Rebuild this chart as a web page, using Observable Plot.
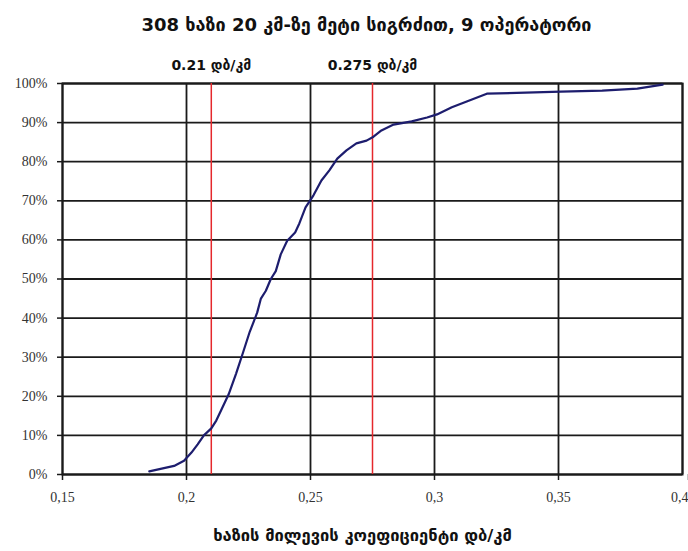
<!DOCTYPE html>
<html><head><meta charset="utf-8">
<script src="https://cdn.jsdelivr.net/npm/d3@7"></script>
<script src="https://cdn.jsdelivr.net/npm/@observablehq/plot@0.6"></script>
<style>body{margin:0;background:#fff}</style>
</head><body><div id="chart"></div>
<script>
const title = "308 ხაზი 20 კმ-ზე მეტი სიგრძით, 9 ოპერატორი";
const xTitle = "ხაზის მილევის კოეფიციენტი დბ/კმ";

const attenuation = [0.185, 0.190, 0.195, 0.199, 0.202, 0.2045, 0.207, 0.210, 0.212, 0.2143, 0.217, 0.220, 0.2228, 0.2255, 0.2285, 0.230, 0.232, 0.234, 0.236, 0.238, 0.2406, 0.2438, 0.2455, 0.248, 0.2512, 0.2544, 0.2576, 0.2608, 0.2645, 0.2685, 0.2726, 0.2754, 0.2786, 0.2835, 0.2908, 0.297, 0.301, 0.307, 0.313, 0.3211, 0.351, 0.3676, 0.3818, 0.392];
const cumulativeShare = [0.008, 0.015, 0.022, 0.035, 0.056, 0.077, 0.100, 0.118, 0.138, 0.169, 0.205, 0.258, 0.312, 0.365, 0.414, 0.450, 0.470, 0.500, 0.520, 0.563, 0.598, 0.619, 0.642, 0.683, 0.714, 0.752, 0.778, 0.808, 0.829, 0.847, 0.854, 0.864, 0.880, 0.895, 0.903, 0.913, 0.921, 0.939, 0.954, 0.974, 0.979, 0.982, 0.987, 0.997];

const markerValues = [0.21, 0.275];
const markerLabels = ["0.21 დბ/კმ", "0.275 დბ/კმ"];

const xTicks = [0.15, 0.2, 0.25, 0.3, 0.35, 0.4];
const xTickLabels = ["0,15", "0,2", "0,25", "0,3", "0,35", "0,4"];
const yTicks = [0, 0.1, 0.2, 0.3, 0.4, 0.5, 0.6, 0.7, 0.8, 0.9, 1];
const yTickLabels = ["0%", "10%", "20%", "30%", "40%", "50%", "60%", "70%", "80%", "90%", "100%"];

const curve = attenuation.map((x, i) => ({x, y: cumulativeShare[i]}));
const markers = markerValues.map((x, i) => ({x, label: markerLabels[i]}));
const geoFont = "'DejaVu Sans', sans-serif";
const fmtX = d => xTickLabels[xTicks.indexOf(d)];
const lastTick = xTicks[xTicks.length - 1];

const chart = Plot.plot({
  width: 688, height: 551,
  marginLeft: 62, marginRight: 6, marginTop: 83, marginBottom: 77,
  style: {fontFamily: "'Liberation Serif', serif", fontSize: "14px", background: "#fff", color: "#000"},
  x: {domain: [0.15, 0.4], label: null},
  y: {domain: [0, 1], label: null},
  marks: [
    Plot.gridX(xTicks, {stroke: "#1a1a1a", strokeOpacity: 1, strokeWidth: 1.8}),
    Plot.gridY(yTicks, {stroke: "#1a1a1a", strokeOpacity: 1, strokeWidth: 1.8}),
    Plot.frame({stroke: "#1a1a1a", strokeWidth: 2}),
    Plot.ruleX(markerValues, {stroke: "#e5282c", strokeWidth: 1.5}),
    Plot.line(curve, {x: "x", y: "y", stroke: "#1d1d6e", strokeWidth: 2.2}),
    Plot.axisX(xTicks.slice(0, -1), {tickFormat: fmtX, tickSize: 6, tickPadding: 12, fill: "#333", stroke: "#1a1a1a", strokeWidth: 1.5, label: null}),
    Plot.axisX([lastTick], {tickFormat: fmtX, tickSize: 6, tickPadding: 12, fill: "#333", stroke: "#1a1a1a", strokeWidth: 1.5, label: null, textAnchor: "end", dx: 6}),
    Plot.axisY(yTicks, {tickFormat: d => yTickLabels[yTicks.indexOf(d)], tickSize: 5, tickPadding: 10, fill: "#333", stroke: "#1a1a1a", strokeWidth: 1.5, label: null}),
    Plot.text(markers, {x: "x", text: "label", frameAnchor: "top", dy: -23, fontFamily: geoFont, fontWeight: "bold", fontSize: 14, fill: "#111"}),
    Plot.text([title], {frameAnchor: "top", dy: -65, dx: -6, fontFamily: geoFont, fontWeight: "bold", fontSize: 18, fill: "#111"}),
    Plot.text([xTitle], {frameAnchor: "bottom", dy: 66, dx: -10, fontFamily: geoFont, fontWeight: "bold", fontSize: 16.5, fill: "#111"})
  ]
});
document.getElementById("chart").append(chart);
</script>
</body></html>
